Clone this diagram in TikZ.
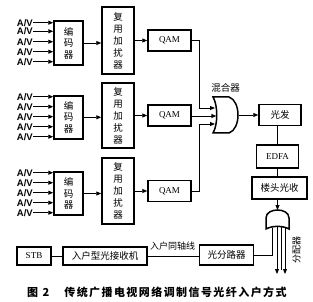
\documentclass[tikz,border=0pt]{standalone}
\usepackage{fontspec}
\setmainfont{Liberation Serif}
\newfontfamily\cjk{Noto Sans CJK SC}
\newfontfamily\capfont[LetterSpace=13]{Noto Sans CJK SC}
\newfontfamily\arialb{Liberation Sans}
\usetikzlibrary{arrows.meta}
\tikzset{
  box/.style={draw, line width=1.5pt, inner sep=0pt, align=center},
  vtext/.style={font=\cjk\fontsize{9.5}{11.5}\selectfont},
  ctext/.style={font=\cjk\fontsize{9.5}{11}\selectfont},
  ltext/.style={font=\fontsize{9}{10}\selectfont},
  avlabel/.style={font=\arialb\bfseries\fontsize{9.5}{10}\selectfont, inner sep=0pt, anchor=east},
  ln/.style={line width=0.9pt},
  arr/.style={line width=0.9pt, -{Triangle[length=5pt,width=4pt]}},
  shapeline/.style={line width=1.5pt}
}
\begin{document}
\begin{tikzpicture}[x=1pt,y=-1pt]
\useasboundingbox (0,0) rectangle (313,302);

% encoders
\node[box, vtext, minimum width=29pt, minimum height=44pt] (enc1) at (68.5,43) {编\\码\\器};
\node[box, vtext, minimum width=29pt, minimum height=43pt] (enc2) at (68.5,117.3) {编\\码\\器};
\node[box, vtext, minimum width=29pt, minimum height=43pt] (enc3) at (68.5,193.5) {编\\码\\器};

% multiplexers
\node[box, font=\cjk\fontsize{9.5}{12}\selectfont, minimum width=32pt, minimum height=67pt] (mux1) at (118,40.5) {复\\用\\加\\扰\\器};
\node[box, font=\cjk\fontsize{9.5}{12}\selectfont, minimum width=32pt, minimum height=65pt] (mux2) at (118,115.5) {复\\用\\加\\扰\\器};
\node[box, font=\cjk\fontsize{9.5}{12}\selectfont, minimum width=32pt, minimum height=66pt] (mux3) at (118,191) {复\\用\\加\\扰\\器};

% QAM
\node[box, ltext, minimum width=43pt, minimum height=21pt] (qam1) at (169.5,40.5) {QAM};
\node[box, ltext, minimum width=43pt, minimum height=21pt] (qam2) at (169.5,115.5) {QAM};
\node[box, ltext, minimum width=43pt, minimum height=21pt] (qam3) at (169.5,191) {QAM};

% A/V inputs
\foreach \y [count=\i] in {22.7,31.3,41.7,51.7,61.7} {
  \node[avlabel] (av1\i) at (33,\y) {A/V};
  \draw[arr] (av1\i.east) -- (av1\i.east -| enc1.west);
}
\foreach \y [count=\i] in {96.7,106.7,116.7,126.7,136.7} {
  \node[avlabel] (av2\i) at (33,\y) {A/V};
  \draw[arr] (av2\i.east) -- (av2\i.east -| enc2.west);
}
\foreach \y [count=\i] in {172.7,182.7,192.7,202.7,212.7} {
  \node[avlabel] (av3\i) at (33,\y) {A/V};
  \draw[arr] (av3\i.east) -- (av3\i.east -| enc3.west);
}

% encoder -> mux -> QAM
\foreach \i in {1,2,3} {
  \draw[arr] (enc\i.east) -- (enc\i.east -| mux\i.west);
  \draw[arr] (qam\i.west -| mux\i.east) -- (qam\i.west);
}

% mixer shape
\draw[shapeline] (213,97) -- (229,97) .. controls (235,99) and (238,107) .. (238,115)
  .. controls (238,123) and (235,131) .. (229,133) -- (213,133)
  .. controls (218,125) and (218,105) .. (213,97) -- cycle;
\coordinate (mx1) at (215,108);
\coordinate (mx2) at (216.3,116);
\coordinate (mx3) at (215,124);
\coordinate (mxo) at (238.7,115);
\node[font=\cjk\fontsize{9.5}{10}\selectfont] (mixlabel) at (225.5,88) {混合器};

\draw[arr] (qam1.east) -- ++(8,0) |- (mx1);
\draw[arr] (qam2.east |- mx2) -- (mx2);
\draw[arr] (qam3.east) -- ++(8,0) |- (mx3);

% right column
\node[box, ctext, minimum width=42pt, minimum height=21pt] (gf) at (280,115) {光发};
\node[box, ltext, minimum width=42pt, minimum height=23pt] (edfa) at (277.5,156.5) {EDFA};
\node[box, ctext, minimum width=55pt, minimum height=22pt] (lt) at (279.5,188) {楼头光收};

\draw[arr] (mxo) -- (gf.west |- mxo);
\draw[ln] (edfa.north) -- (edfa.north |- gf.south);
\draw[ln] (edfa.south) -- (edfa.south |- lt.north);

% splitter shape
\draw[shapeline] (266,229) -- (266,218) .. controls (266,212.5) and (272,210) .. (277.5,210)
  .. controls (283,210) and (289,212.5) .. (289,218) -- (289,229)
  .. controls (283,225.5) and (272,225.5) .. (266,229) -- cycle;
\coordinate (sptop) at (277.5,210);
\draw[arr] (sptop |- lt.south) -- (sptop);

\coordinate (so1) at (272,227.5);
\coordinate (so2) at (277,227);
\coordinate (so2e) at (277,274);
\coordinate (so3) at (281,227);
\coordinate (so3e) at (281,270);
\coordinate (so4) at (285,227.5);
\coordinate (so4e) at (285,274);
\draw[arr] (so2) -- (so2e);
\draw[ln] (so3) -- (so3e);
\draw[arr] (so4) -- (so4e);
\node[rotate=90, font=\cjk\fontsize{9}{9}\selectfont] (fpq) at (296.5,250) {分配器};

% bottom row
\node[box, ltext, minimum width=34pt, minimum height=18pt] (stb) at (34,256) {STB};
\node[box, ctext, minimum width=84pt, minimum height=18pt] (rx) at (105,256) {入户型光接收机};
\node[box, ctext, minimum width=54pt, minimum height=20pt] (fl) at (226.5,255) {光分路器};
\draw[ln] (stb.east) -- (rx.west);
\draw[ln] (rx.east) -- (rx.east -| fl.west);
\node[font=\cjk\fontsize{9}{10}\selectfont] (cable) at (172.5,246.5) {入户同轴线};
\draw[ln] (so1) |- (fl.east);

% caption
\node[font=\cjk\bfseries\fontsize{11}{12}\selectfont, anchor=west, inner sep=0pt] (fig) at (27,292.5) {图\hspace{4.5pt}2};
\node[font=\capfont\bfseries\fontsize{11}{12}\selectfont] (cap) at (175.5,292.5) {传统广播电视网络调制信号光纤入户方式};
\end{tikzpicture}
\end{document}
